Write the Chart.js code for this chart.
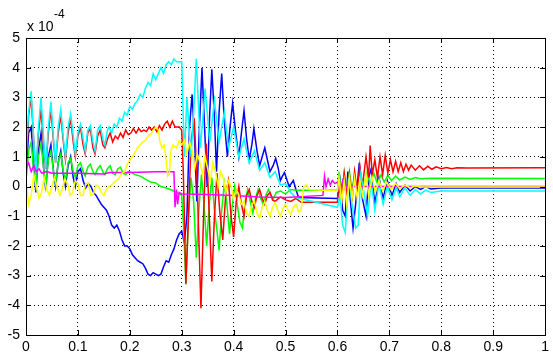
<!DOCTYPE html>
<html>
<head>
<meta charset="utf-8">
<script src="https://cdn.jsdelivr.net/npm/chart.js@4"></script>
<style>
  html, body { margin: 0; padding: 0; background: #fff; }
  #wrap { position: relative; width: 553px; height: 360px; }
  .expo { position: absolute; font-family: "Liberation Sans", Arial, sans-serif; color: #000; line-height: 1; }
</style>
</head>
<body>
<div id="wrap">
  <canvas id="myChart" width="553" height="360"></canvas>
  <div class="expo" style="left:27px; top:19px; font-size:14px;">x 10</div>
  <div class="expo" style="left:54px; top:8px; font-size:12px;">-4</div>
</div>
<script>
// values in units of 1e-4
const xTicks = [0, 0.1, 0.2, 0.3, 0.4, 0.5, 0.6, 0.7, 0.8, 0.9, 1];
const yTicks = [-5, -4, -3, -2, -1, 0, 1, 2, 3, 4, 5];

const blueSeries = [
  [0,0.3],[0.005,1.8],[0.01,2.0],[0.014,0.8],[0.019,-0.2],[0.024,1.2],[0.029,1.8],[0.034,0.6],[0.038,-0.1],
  [0.043,1.0],[0.048,1.4],[0.053,0.5],[0.057,0.0],[0.062,0.8],[0.067,1.2],[0.072,0.4],[0.076,0.0],[0.081,0.7],
  [0.086,1.0],[0.091,0.3],[0.095,0.0],[0.1,0.5],[0.105,0.6],[0.11,0.2],[0.115,-0.05],[0.12,0.1],[0.125,0.0],
  [0.13,-0.2],[0.135,-0.3],[0.14,-0.45],[0.145,-0.6],[0.15,-0.7],[0.155,-0.8],[0.16,-1.0],[0.165,-1.3],[0.17,-1.4],
  [0.175,-1.3],[0.18,-1.5],[0.185,-1.8],[0.19,-2.0],[0.195,-2.0],[0.2,-2.1],[0.205,-2.3],[0.21,-2.4],[0.215,-2.5],
  [0.22,-2.55],[0.225,-2.6],[0.23,-2.75],[0.235,-2.95],[0.24,-3.0],[0.245,-2.9],[0.25,-2.95],[0.255,-3.0],
  [0.26,-2.95],[0.265,-2.7],[0.27,-2.5],[0.275,-2.55],[0.28,-2.3],[0.285,-2.1],[0.29,-1.8],[0.295,-1.6],[0.3,-1.5],
  [0.305,-1.9],[0.31,-1.0],[0.315,2.0],[0.32,3.1],[0.325,1.5],[0.329,-0.5],[0.334,2.0],[0.339,4.0],[0.344,2.0],
  [0.349,0.0],[0.354,2.5],[0.358,3.95],[0.363,2.3],[0.367,0.5],[0.372,2.5],[0.377,3.8],[0.382,2.2],[0.388,1.0],
  [0.393,2.0],[0.398,2.8],[0.404,1.8],[0.41,1.0],[0.415,1.8],[0.42,2.55],[0.425,1.6],[0.43,0.9],[0.435,1.4],
  [0.439,1.95],[0.445,1.2],[0.45,0.7],[0.455,1.0],[0.46,1.3],[0.465,0.9],[0.47,0.5],[0.476,0.7],[0.481,0.95],
  [0.486,0.6],[0.49,0.2],[0.494,0.35],[0.498,0.47],[0.503,0.2],[0.507,0.0],[0.511,0.1],[0.515,0.2],[0.52,-0.1],
  [0.525,-0.37],[0.6,-0.4],[0.605,0.2],[0.61,-0.8],[0.615,-1.0],[0.62,0.5],[0.625,-0.5],[0.63,-1.4],[0.635,-0.6],
  [0.642,0.8],[0.648,-0.4],[0.655,-1.0],[0.66,0.3],[0.665,0.6],[0.672,-0.6],[0.68,0.3],[0.688,-0.4],[0.696,0.2],
  [0.705,-0.3],[0.713,0.1],[0.72,-0.2],[0.73,0.05],[0.74,-0.15],[0.75,0.0],[0.76,-0.1],[0.77,0.0],[0.78,-0.08],
  [0.8,-0.05],[1,-0.05]
];

const greenSeries = [
  [0,0.2],[0.005,1.2],[0.01,1.5],[0.015,0.5],[0.019,0.0],[0.024,1.0],[0.029,1.45],[0.034,0.6],[0.038,0.0],
  [0.043,0.9],[0.048,1.2],[0.053,0.5],[0.057,0.1],[0.062,0.8],[0.067,1.1],[0.072,0.5],[0.076,0.2],[0.081,0.8],
  [0.086,0.95],[0.091,0.5],[0.095,0.3],[0.1,0.7],[0.105,0.8],[0.11,0.5],[0.114,0.35],[0.119,0.65],[0.124,0.75],
  [0.129,0.5],[0.133,0.4],[0.138,0.6],[0.143,0.7],[0.148,0.5],[0.152,0.4],[0.157,0.6],[0.162,0.7],[0.167,0.45],
  [0.172,0.4],[0.177,0.6],[0.182,0.65],[0.187,0.45],[0.192,0.4],[0.197,0.5],[0.2,0.5],[0.21,0.4],[0.22,0.35],
  [0.23,0.25],[0.24,0.15],[0.25,0.12],[0.26,0.0],[0.27,-0.05],[0.28,-0.12],[0.29,-0.2],[0.3,-0.3],
  [0.304,-1.5],[0.308,-3.3],[0.313,-1.0],[0.318,0.3],[0.323,-0.5],[0.328,-2.4],[0.333,-0.8],[0.338,0.4],
  [0.343,-0.6],[0.348,-2.0],[0.353,-0.6],[0.358,0.3],[0.363,-0.8],[0.368,-1.5],[0.372,-2.15],[0.377,-0.8],
  [0.382,0.1],[0.387,-0.6],[0.392,-1.6],[0.397,-0.7],[0.402,0.0],[0.407,-0.6],[0.412,-1.2],[0.417,-1.4],
  [0.422,-0.5],[0.427,-0.1],[0.432,-0.5],[0.437,-0.9],[0.442,-0.4],[0.447,-0.1],[0.452,-0.4],[0.457,-0.6],
  [0.462,-0.3],[0.467,-0.1],[0.472,-0.3],[0.477,-0.4],[0.482,-0.2],[0.49,-0.15],[0.5,-0.25],[0.51,-0.1],
  [0.52,-0.13],[0.6,-0.13],[0.603,0.5],[0.608,-0.3],[0.613,0.45],[0.618,-0.2],[0.623,0.5],[0.628,-0.1],
  [0.633,0.4],[0.638,-0.2],[0.643,0.45],[0.65,0.0],[0.657,0.5],[0.663,0.05],[0.67,0.45],[0.677,0.1],[0.684,0.4],
  [0.69,0.15],[0.697,0.38],[0.704,0.2],[0.712,0.35],[0.72,0.22],[0.73,0.32],[0.74,0.24],[0.75,0.3],[0.76,0.26],
  [0.78,0.28],[1,0.27]
];

const redSeries = [
  [0,0.5],[0.005,2.4],[0.01,3.0],[0.015,1.5],[0.019,0.4],[0.024,1.8],[0.029,2.6],[0.034,1.4],[0.038,0.6],
  [0.043,1.8],[0.048,2.6],[0.053,1.5],[0.057,0.8],[0.062,1.8],[0.067,2.4],[0.072,1.5],[0.076,0.9],[0.081,1.8],
  [0.086,2.3],[0.091,1.5],[0.095,1.0],[0.1,1.7],[0.105,2.0],[0.11,1.4],[0.114,1.1],[0.119,1.8],[0.124,1.95],
  [0.129,1.3],[0.133,1.1],[0.138,1.7],[0.143,1.9],[0.148,1.4],[0.152,1.3],[0.157,1.6],[0.162,1.8],[0.167,1.5],
  [0.172,1.7],[0.177,1.6],[0.182,1.8],[0.187,1.65],[0.192,1.9],[0.197,1.75],[0.202,1.8],[0.207,1.95],
  [0.212,1.8],[0.217,1.95],[0.222,1.85],[0.227,1.9],[0.232,1.85],[0.237,2.0],[0.242,1.9],[0.247,2.0],
  [0.252,1.85],[0.257,2.05],[0.262,1.9],[0.267,2.1],[0.272,2.2],[0.277,2.0],[0.282,2.2],[0.287,2.0],
  [0.295,2.0],[0.3,1.9],[0.303,0.5],[0.308,-3.27],[0.313,-1.0],[0.318,1.5],[0.324,2.3],[0.33,0.0],[0.337,-4.1],
  [0.342,-1.0],[0.347,1.45],[0.352,-0.5],[0.358,-3.2],[0.363,-1.0],[0.368,0.45],[0.373,-0.8],[0.379,-1.8],
  [0.385,-0.2],[0.39,0.2],[0.395,-1.0],[0.4,-1.7],[0.405,-0.5],[0.41,0.0],[0.415,-0.6],[0.42,-1.0],[0.425,-0.3],
  [0.43,-0.1],[0.435,-0.5],[0.44,-0.7],[0.445,-0.3],[0.45,-0.1],[0.455,-0.4],[0.46,-0.6],[0.465,-0.3],
  [0.47,-0.2],[0.475,-0.45],[0.48,-0.5],[0.49,-0.35],[0.5,-0.45],[0.51,-0.5],[0.52,-0.4],[0.53,-0.53],
  [0.6,-0.53],[0.603,0.3],[0.608,-0.5],[0.613,0.45],[0.618,-0.3],[0.623,0.4],[0.628,-0.5],[0.633,0.5],
  [0.638,-0.2],[0.643,0.7],[0.648,0.0],[0.655,1.0],[0.66,0.3],[0.663,1.38],[0.667,0.4],[0.672,0.9],[0.677,0.3],
  [0.682,1.0],[0.687,0.4],[0.692,1.05],[0.697,0.45],[0.702,0.9],[0.707,0.5],[0.712,0.85],[0.717,0.5],
  [0.722,0.8],[0.727,0.5],[0.732,0.75],[0.737,0.55],[0.742,0.72],[0.75,0.55],[0.758,0.7],[0.766,0.56],
  [0.774,0.68],[0.782,0.58],[0.79,0.66],[0.8,0.6],[0.81,0.64],[0.82,0.6],[0.83,0.63],[0.85,0.62],[1,0.63]
];

const cyanSeries = [
  [0,1.0],[0.005,2.5],[0.01,3.2],[0.015,1.5],[0.019,0.4],[0.024,2.0],[0.029,3.0],[0.034,1.6],[0.038,0.6],
  [0.043,2.0],[0.048,2.85],[0.053,1.6],[0.057,0.8],[0.062,2.0],[0.067,2.6],[0.072,1.6],[0.076,1.0],[0.081,2.0],
  [0.086,2.45],[0.091,1.7],[0.095,1.1],[0.1,1.8],[0.105,2.1],[0.11,1.6],[0.114,1.2],[0.119,1.9],[0.124,2.05],
  [0.129,1.5],[0.133,1.2],[0.138,1.9],[0.143,2.05],[0.148,1.6],[0.152,1.4],[0.157,1.9],[0.16,2.0],[0.165,1.8],
  [0.17,2.1],[0.175,2.0],[0.18,2.3],[0.185,2.2],[0.19,2.5],[0.195,2.4],[0.2,2.7],[0.205,2.6],[0.21,2.8],
  [0.215,2.9],[0.22,3.1],[0.225,3.0],[0.23,3.3],[0.235,3.5],[0.24,3.4],[0.245,3.8],[0.25,3.6],[0.255,3.8],
  [0.26,4.0],[0.265,3.8],[0.27,4.1],[0.275,4.2],[0.28,4.1],[0.285,4.3],[0.29,4.2],[0.3,4.2],[0.305,1.0],
  [0.31,3.0],[0.318,1.0],[0.323,2.5],[0.328,4.3],[0.336,1.3],[0.345,3.3],[0.354,1.5],[0.363,2.9],[0.372,1.5],
  [0.382,2.5],[0.39,1.3],[0.4,2.0],[0.41,1.0],[0.42,1.6],[0.43,0.8],[0.44,1.2],[0.45,0.55],[0.46,0.8],
  [0.47,0.3],[0.48,0.5],[0.49,0.05],[0.5,0.1],[0.51,-0.2],[0.52,-0.37],[0.6,-0.7],[0.605,-0.3],[0.61,-1.3],
  [0.615,-1.55],[0.622,0.3],[0.628,-0.6],[0.635,-1.4],[0.64,-1.3],[0.645,0.4],[0.652,-0.3],[0.658,-1.0],
  [0.665,0.2],[0.672,-0.8],[0.68,0.1],[0.688,-0.6],[0.696,0.0],[0.705,-0.45],[0.713,-0.05],[0.72,-0.35],
  [0.73,-0.05],[0.74,-0.3],[0.75,-0.1],[0.76,-0.25],[0.77,-0.12],[0.78,-0.2],[0.8,-0.15],[1,-0.15]
];

const magentaSeries = [
  [0,0.6],[0.005,0.8],[0.01,0.5],[0.015,0.7],[0.02,0.5],[0.025,0.6],[0.03,0.45],[0.04,0.5],[0.05,0.45],
  [0.1,0.45],[0.15,0.42],[0.16,0.47],[0.2,0.47],[0.25,0.5],[0.285,0.5],[0.287,-0.7],[0.29,-0.1],[0.292,-0.6],
  [0.295,-0.2],[0.3,-0.25],[0.35,-0.27],[0.4,-0.3],[0.45,-0.35],[0.5,-0.37],[0.572,-0.3],[0.575,0.35],
  [0.578,0.0],[0.582,0.25],[0.586,0.05],[0.59,0.2],[0.595,0.1],[0.6,0.15],[0.605,-0.2],[0.61,0.2],[0.615,-0.1],
  [0.62,0.1],[0.63,0.0],[1,0.0]
];

const yellowSeries = [
  [0,0.2],[0.005,-0.6],[0.01,-0.3],[0.015,0.4],[0.02,0.0],[0.025,-0.4],[0.03,-0.2],[0.035,0.3],[0.04,-0.1],
  [0.045,-0.3],[0.05,0.0],[0.055,0.3],[0.06,0.0],[0.065,-0.3],[0.07,-0.1],[0.075,0.25],[0.08,0.1],[0.085,-0.3],
  [0.09,-0.2],[0.095,0.2],[0.1,0.1],[0.105,-0.3],[0.11,-0.3],[0.115,0.1],[0.12,0.1],[0.125,-0.3],[0.13,-0.25],
  [0.135,0.05],[0.14,0.0],[0.145,-0.2],[0.15,-0.3],[0.155,-0.1],[0.16,0.0],[0.165,0.05],[0.17,0.15],
  [0.175,0.2],[0.18,0.3],[0.185,0.45],[0.19,0.5],[0.195,0.75],[0.2,0.9],[0.205,1.0],[0.21,1.15],[0.215,1.3],
  [0.22,1.4],[0.225,1.5],[0.23,1.55],[0.235,1.7],[0.24,1.75],[0.245,1.9],[0.25,2.0],[0.255,1.9],[0.258,1.5],
  [0.262,1.3],[0.266,1.4],[0.27,0.9],[0.273,0.35],[0.276,0.4],[0.279,1.2],[0.283,1.4],[0.29,1.3],[0.295,1.55],
  [0.3,1.4],[0.305,1.55],[0.31,1.1],[0.315,1.5],[0.32,1.2],[0.325,0.6],[0.33,1.1],[0.335,0.8],[0.34,0.4],
  [0.345,1.0],[0.35,0.6],[0.355,0.2],[0.36,0.8],[0.365,0.5],[0.37,0.0],[0.375,0.5],[0.38,0.3],[0.385,-0.2],
  [0.39,0.2],[0.395,0.0],[0.4,-0.4],[0.405,-0.1],[0.41,-0.3],[0.415,-0.6],[0.42,-0.5],[0.425,-0.9],[0.43,-1.0],
  [0.435,-0.6],[0.44,-0.5],[0.445,-0.9],[0.45,-1.05],[0.455,-0.7],[0.46,-0.5],[0.465,-0.8],[0.47,-1.0],
  [0.475,-0.7],[0.48,-0.55],[0.485,-0.8],[0.49,-1.0],[0.495,-0.75],[0.5,-0.6],[0.505,-0.8],[0.51,-0.95],
  [0.515,-0.7],[0.52,-0.6],[0.525,-0.85],[0.53,-0.8],[0.535,0.0],[0.54,0.05],[0.545,-0.1],[0.6,-0.15],
  [0.603,0.3],[0.608,-0.5],[0.613,0.2],[0.618,-0.6],[0.623,0.3],[0.628,-0.4],[0.633,0.3],[0.638,-0.4],
  [0.643,0.2],[0.648,-0.3],[0.655,0.4],[0.66,-0.3],[0.667,0.3],[0.673,-0.2],[0.68,0.2],[0.687,-0.15],
  [0.695,0.15],[0.703,-0.1],[0.712,0.1],[0.72,-0.08],[0.73,0.05],[0.74,-0.05],[0.75,0.02],[0.76,-0.02],[1,-0.02]
];

// plotted in this order, later ones on top
const seriesList = [
  { data: blueSeries, color: "#0000ff" },
  { data: greenSeries, color: "#00ff00" },
  { data: redSeries, color: "#ff0000" },
  { data: cyanSeries, color: "#00ffff" },
  { data: magentaSeries, color: "#ff00ff" },
  { data: yellowSeries, color: "#ffff00" },
];

const FONT = { family: "'Liberation Sans', Arial, sans-serif", size: 14 };

// solid box + inward tick marks like matlab
const boxPlugin = {
  id: "box",
  afterDraw(chart) {
    const ctx = chart.ctx;
    const a = chart.chartArea;
    const xs = chart.scales.x, ys = chart.scales.y;
    ctx.save();
    ctx.strokeStyle = "#000";
    ctx.lineWidth = 1;
    ctx.strokeRect(Math.round(a.left) + 0.5, Math.round(a.top) + 0.5,
      Math.round(a.right - a.left), Math.round(a.bottom - a.top));
    ctx.beginPath();
    xTicks.forEach((v) => {
      const px = Math.round(xs.getPixelForValue(v)) + 0.5;
      ctx.moveTo(px, a.bottom); ctx.lineTo(px, a.bottom - 5);
      ctx.moveTo(px, a.top); ctx.lineTo(px, a.top + 5);
    });
    yTicks.forEach((v) => {
      const py = Math.round(ys.getPixelForValue(v)) + 0.5;
      ctx.moveTo(a.left, py); ctx.lineTo(a.left + 5, py);
      ctx.moveTo(a.right, py); ctx.lineTo(a.right - 5, py);
    });
    ctx.stroke();
    ctx.restore();
  },
};

const config = {
  type: "line",
  data: {
    datasets: seriesList.map((s, i) => ({
      data: s.data.map((p) => ({ x: p[0], y: p[1] })),
      borderColor: s.color,
      backgroundColor: s.color,
      borderWidth: 1.5,
      pointRadius: 0,
      tension: 0,
      fill: false,
      order: seriesList.length - i,
    })),
  },
  options: {
    responsive: false,
    animation: false,
    events: [],
    layout: { padding: { top: 38, right: 5, left: 0, bottom: 0 } },
    plugins: { legend: { display: false }, tooltip: { enabled: false } },
    scales: {
      x: {
        type: "linear",
        min: 0,
        max: 1,
        afterBuildTicks: (scale) => { scale.ticks = xTicks.map((v) => ({ value: v })); },
        afterFit: (scale) => { scale.height = 25; },
        ticks: { color: "#000", font: FONT, padding: 4, maxRotation: 0, autoSkip: false,
          callback: (v) => String(v) },
        grid: { color: "#000", lineWidth: 1, drawTicks: false },
        border: { display: false, dash: [1, 3] },
      },
      y: {
        type: "linear",
        min: -5,
        max: 5,
        afterBuildTicks: (scale) => { scale.ticks = yTicks.map((v) => ({ value: v })); },
        afterFit: (scale) => { scale.width = 26; },
        ticks: { color: "#000", font: FONT, padding: 6, autoSkip: false,
          callback: (v) => String(v) },
        grid: { color: "#000", lineWidth: 1, drawTicks: false },
        border: { display: false, dash: [1, 3] },
      },
    },
  },
  plugins: [boxPlugin],
};

var myChart = new Chart(document.getElementById("myChart"), config);
</script>
</body>
</html>
